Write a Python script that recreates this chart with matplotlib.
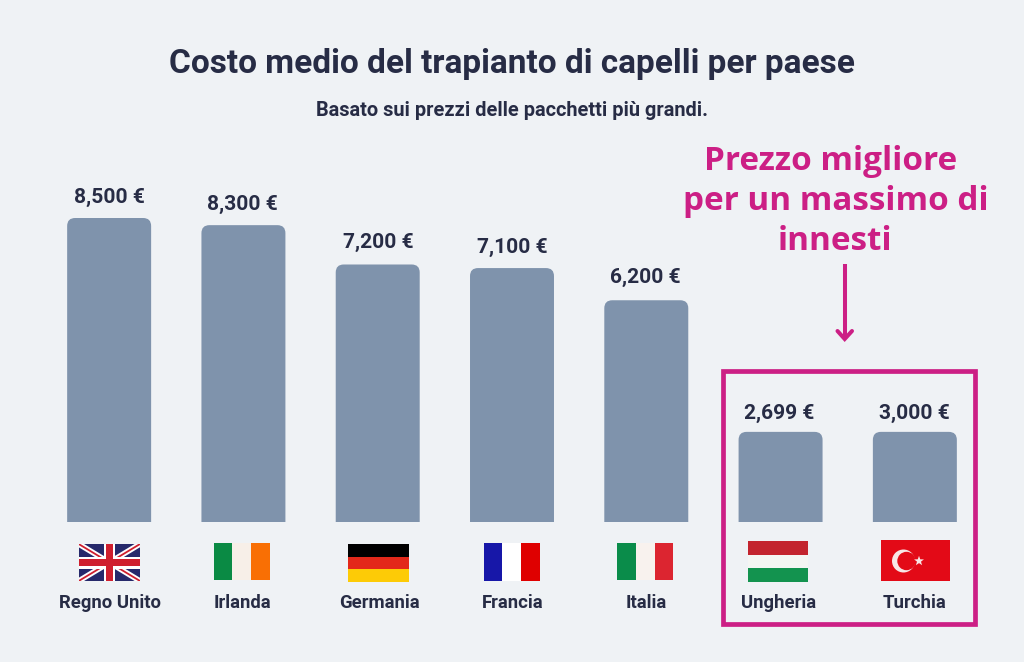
#!/usr/bin/env python3
"""Costo medio del trapianto di capelli per paese."""

import matplotlib
matplotlib.use("Agg")
import matplotlib.pyplot as plt
import numpy as np
from matplotlib.patches import Circle, PathPatch, Polygon, Rectangle
from matplotlib.path import Path

countries = ["Regno Unito", "Irlanda", "Germania", "Francia", "Italia", "Ungheria", "Turchia"]
value_labels = ["8,500 €", "8,300 €", "7,200 €", "7,100 €", "6,200 €", "2,699 €", "3,000 €"]
# drawn heights: the last two bars are shorter than their labels say
bar_heights = [8500, 8300, 7200, 7100, 6200, 2520, 2520]

BG = "#eff2f5"
BAR = "#7f93ac"
INK = "#272c45"
PINK = "#cc1f85"
W, H = 1024, 662


def rounded_bar(ax, x, width, height, rx, ry):
    # bar with rounded top corners only
    l, r = x - width / 2, x + width / 2
    verts = [(l, 0), (l, height - ry), (l, height), (l + rx, height),
             (r - rx, height), (r, height), (r, height - ry), (r, 0), (l, 0)]
    codes = [Path.MOVETO, Path.LINETO, Path.CURVE3, Path.CURVE3,
             Path.LINETO, Path.CURVE3, Path.CURVE3, Path.LINETO, Path.CLOSEPOLY]
    ax.add_patch(PathPatch(Path(verts, codes), facecolor=BAR, edgecolor="none", clip_on=False))


def rect(ov, x0, y0, x1, y1, color, z=3):
    ov.add_patch(Rectangle((x0, y0), x1 - x0, y1 - y0, facecolor=color, edgecolor="none", zorder=z))


def vertical_flag(ov, x0, x1, y0, y1, colors):
    step = (x1 - x0) / 3
    for i, c in enumerate(colors):
        rect(ov, x0 + i * step, y0, x0 + (i + 1) * step, y1, c)


def horizontal_flag(ov, x0, x1, y0, y1, colors):
    step = (y1 - y0) / 3
    for i, c in enumerate(colors):
        rect(ov, x0, y0 + i * step, x1, y0 + (i + 1) * step, c)


def uk_flag(ov, x0, x1, y0, y1):
    navy, red = "#26296b", "#cf1f2e"
    rect(ov, x0, y0, x1, y1, navy)
    clip = Rectangle((x0, y0), x1 - x0, y1 - y0, transform=ov.transData)
    for a, b in [((x0, y0), (x1, y1)), ((x0, y1), (x1, y0))]:
        for color, lw in [("white", 4.0), (red, 1.3)]:
            line, = ov.plot([a[0], b[0]], [a[1], b[1]], color=color, lw=lw, zorder=4, solid_capstyle="butt")
            line.set_clip_path(clip)
    cx, cy = (x0 + x1) / 2, (y0 + y1) / 2
    rect(ov, cx - 5.5, y0, cx + 5.5, y1, "white", 5)
    rect(ov, x0, cy - 6, x1, cy + 6, "white", 5)
    rect(ov, cx - 3.2, y0, cx + 3.2, y1, red, 6)
    rect(ov, x0, cy - 3.7, x1, cy + 3.7, red, 6)


def turkey_flag(ov, x0, x1, y0, y1):
    red = "#e30a17"
    rect(ov, x0, y0, x1, y1, red)
    ov.add_patch(Circle((903.5, 561), 11.5, facecolor="#f8e6e6", edgecolor="none", zorder=4))
    ov.add_patch(Circle((906.5, 561), 9.2, facecolor=red, edgecolor="none", zorder=5))
    # five pointed star
    angles = np.deg2rad(np.arange(10) * 36 - 162)
    radii = np.where(np.arange(10) % 2 == 0, 5.2, 2.1)
    star = np.column_stack([919 + radii * np.cos(angles), 561 + radii * np.sin(angles)])
    ov.add_patch(Polygon(star, facecolor="#f8e6e6", edgecolor="none", zorder=5))


def main():
    plt.rcParams["font.family"] = ["Roboto", "DejaVu Sans"]
    fig = plt.figure(figsize=(W / 100, H / 100), dpi=100, facecolor=BG)

    # bar axes: category 0 centred at 109 px, spacing 134.33 px, baseline at y=522 px, 8500 at y=218 px
    ax = fig.add_axes([42 / W, (H - 522) / H, 940 / W, 304 / H])
    ax.set_xlim(-0.5, 6.5)
    ax.set_ylim(0, 8500)
    ax.axis("off")
    bar_w = 84 / 134.33
    rx, ry = 8 / 134.33, 8 * 8500 / 304
    label_dx = [1, -1, 2, 1, 0, -2, 0]
    value_dx = [0, -1, 1, 0, -1, -1, 0]
    value_dy = [11, 11, 12, 11, 13, 9, 9]
    for i, h in enumerate(bar_heights):
        rounded_bar(ax, i, bar_w, h, rx, ry)
        ax.annotate(value_labels[i], (i, h), xytext=(value_dx[i], value_dy[i]), textcoords="offset pixels",
                    ha="center", va="bottom", fontsize=15.1, fontweight="bold", color=INK,
                    annotation_clip=False)
        ax.annotate(countries[i], (i, 0), xytext=(label_dx[i], -86), textcoords="offset pixels",
                    ha="center", va="baseline", fontsize=13.3, fontweight="bold", color=INK,
                    annotation_clip=False)

    # overlay in pixel coordinates for the flags, box and arrow
    ov = fig.add_axes([0, 0, 1, 1], facecolor="none")
    ov.set_xlim(0, W)
    ov.set_ylim(H, 0)
    ov.axis("off")

    uk_flag(ov, 78.7, 140, 544, 581)
    vertical_flag(ov, 213.7, 270, 543, 580, ["#0a8a44", "#f7efe8", "#f96f04"])
    horizontal_flag(ov, 347.7, 408.5, 544, 581.5, ["#000000", "#e3281a", "#fdcb06"])
    vertical_flag(ov, 483.7, 540, 543, 581, ["#1717a8", "#ffffff", "#df0000"])
    vertical_flag(ov, 617, 673.3, 543, 580, ["#0a8c4a", "#f8f2ee", "#dc2530"])
    horizontal_flag(ov, 748, 808, 541, 581.5, ["#c3242e", "#f4f5f3", "#13934f"])
    turkey_flag(ov, 880.7, 950, 540, 581)

    ov.add_patch(Rectangle((723.3, 371), 252, 252.8, facecolor="none", edgecolor=PINK, lw=3.4))

    ov.plot([844.7, 844.7], [264, 339], color=PINK, lw=2.9, solid_capstyle="butt")
    ov.plot([837.5, 844.7, 852], [331, 339, 331], color=PINK, lw=2.9,
            solid_joinstyle="miter", solid_capstyle="round")

    ov.text(512, 64, "Costo medio del trapianto di capelli per paese", ha="center", va="center",
            fontsize=24, fontweight="bold", color=INK)
    ov.text(512, 111, "Basato sui prezzi delle pacchetti più grandi.", ha="center", va="center",
            fontsize=14.4, fontweight="bold", color=INK)
    annotation_x = [831, 836, 834.5]
    annotation_y = [162, 202, 241]
    annotation_lines = ["Prezzo migliore", "per un massimo di", "innesti"]
    for x, y, line in zip(annotation_x, annotation_y, annotation_lines):
        ov.text(x, y, line, ha="center", va="center", fontsize=23.95, fontweight="bold",
                family=["Open Sans", "DejaVu Sans"], color=PINK)

    fig.savefig("out.png", dpi=100, facecolor=BG)


if __name__ == "__main__":
    main()
